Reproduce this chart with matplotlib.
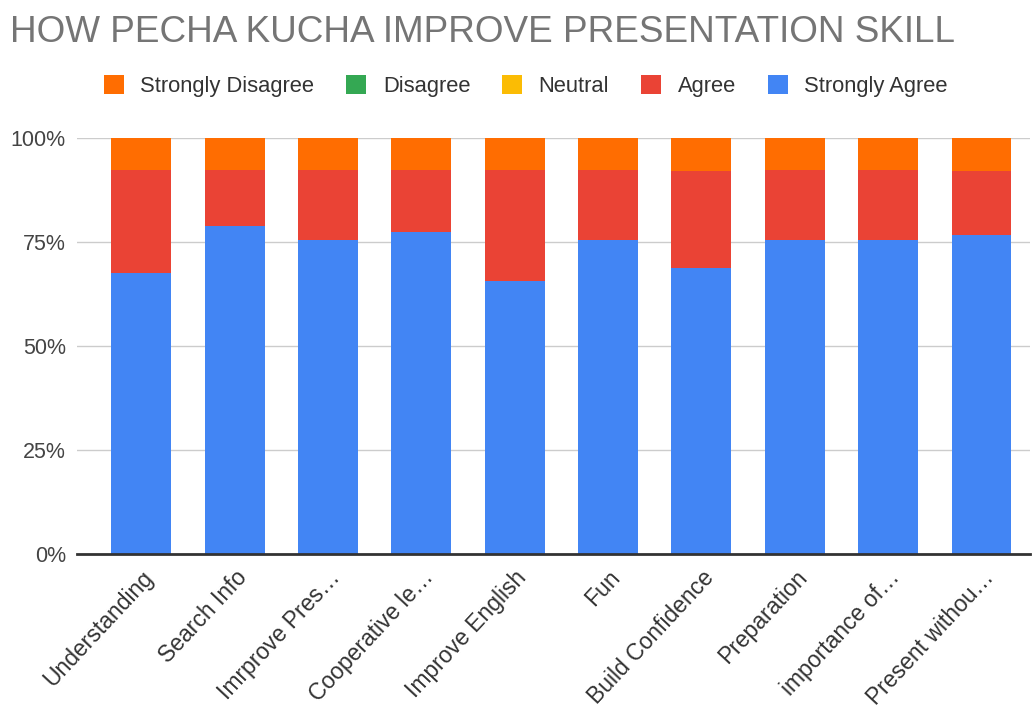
import matplotlib
matplotlib.use("Agg")
import matplotlib.pyplot as plt
import numpy as np

categories = ["Understanding", "Search Info", "Imrprove Pres…", "Cooperative le…",
              "Improve English", "Fun", "Build Confidence", "Preparation",
              "importance of…", "Present withou…"]
strongly_agree = [67.5, 78.7, 75.3, 77.3, 65.5, 75.3, 68.6, 75.3, 75.3, 76.7]
agree = [24.8, 13.6, 17.0, 15.0, 26.8, 17.0, 23.3, 17.0, 17.0, 15.2]
neutral = [0, 0, 0, 0, 0, 0, 0, 0, 0, 0]
disagree = [0, 0, 0, 0, 0, 0, 0, 0, 0, 0]
strongly_disagree = [7.7, 7.7, 7.7, 7.7, 7.7, 7.7, 8.1, 7.7, 7.7, 8.1]
yticks = [0, 25, 50, 75, 100]
ytick_labels = ["0%", "25%", "50%", "75%", "100%"]

series = [
    ("Strongly Agree", strongly_agree, "#4285F4"),
    ("Agree", agree, "#EA4335"),
    ("Neutral", neutral, "#FBBC04"),
    ("Disagree", disagree, "#34A853"),
    ("Strongly Disagree", strongly_disagree, "#FF6D01"),
]

plt.rcParams['font.family'] = ['Liberation Sans', 'DejaVu Sans']

fig = plt.figure(figsize=(10.33, 7.17), dpi=100)
ax = fig.add_axes([0.0745, 0.228, 0.9225, 0.58])

x = np.arange(len(categories))
bottom = np.zeros(len(categories))
handles = {}
for name, vals, col in series:
    v = np.array(vals, dtype=float)
    b = ax.bar(x, v, bottom=bottom, width=0.64, color=col, label=name, zorder=2)
    handles[name] = b
    bottom += v

ax.set_ylim(0, 100)
ax.set_xlim(-0.69, 9.52)
ax.set_yticks(yticks)
ax.set_yticklabels(ytick_labels, fontsize=15.5, color="#444444")
ax.set_xticks(x)
ax.set_xticklabels(categories, rotation=47, ha="right", rotation_mode="anchor",
                   fontsize=16.5, color="#333333")
ax.tick_params(axis="both", length=0)
ax.tick_params(axis="y", pad=8)
ax.tick_params(axis="x", pad=9)
for s in ["top", "right", "left"]:
    ax.spines[s].set_visible(False)
ax.spines["bottom"].set_color("#333333")
ax.spines["bottom"].set_linewidth(2)
ax.spines["bottom"].set_zorder(3)
ax.yaxis.grid(True, color="#cccccc", linewidth=1, zorder=0)
ax.set_axisbelow(True)

fig.text(0.01, 1 - 42 / 717, "HOW PECHA KUCHA IMPROVE PRESENTATION SKILL",
         fontsize=26.6, color="#757575", va="baseline", ha="left")

order = ["Strongly Disagree", "Disagree", "Neutral", "Agree", "Strongly Agree"]
leg = fig.legend([handles[n] for n in order], order, loc="center",
                 bbox_to_anchor=(0.509, 1 - 86 / 717), ncol=5, frameon=False,
                 fontsize=15.8, handlelength=0.92, handleheight=0.92,
                 handletextpad=0.75, columnspacing=1.45)
for t in leg.get_texts():
    t.set_color("#333333")

fig.savefig("out.png", dpi=100)
